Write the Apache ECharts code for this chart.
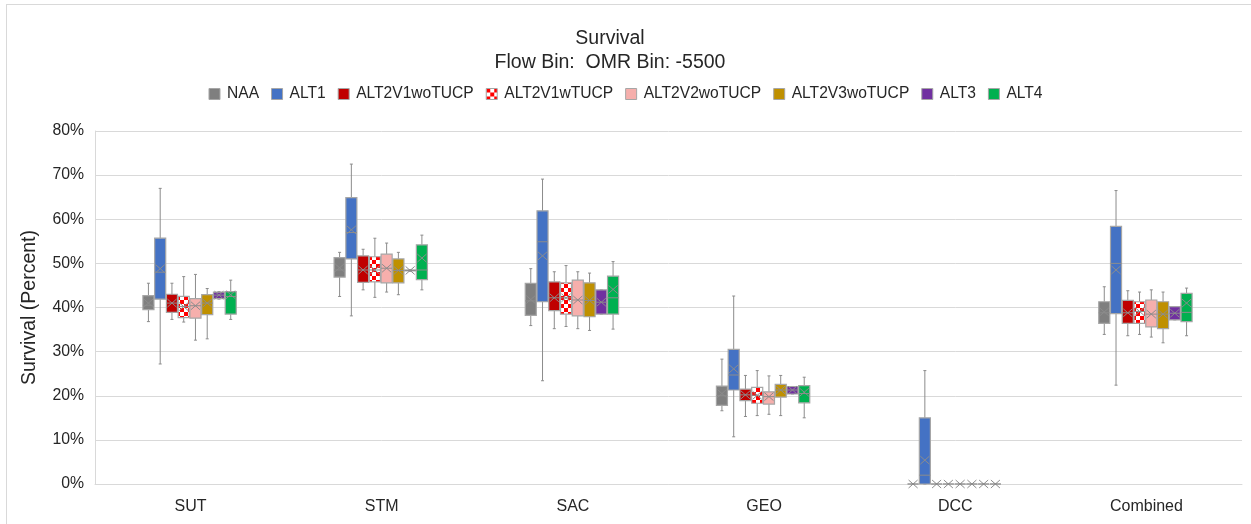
<!DOCTYPE html>
<html>
<head>
<meta charset="utf-8">
<script src="https://cdn.jsdelivr.net/npm/echarts@6/dist/echarts.min.js"></script>
<style>
html,body{margin:0;padding:0;background:#fff;}
#frame{position:absolute;left:6px;top:4px;width:1250px;height:525px;border-top:1px solid #d9d9d9;border-left:1px solid #d9d9d9;box-sizing:border-box;}
#main{position:absolute;left:0;top:0;width:1251px;height:524px;}
</style>
</head>
<body>
<div id="frame"></div>
<div id="main"></div>
<script>
// Categories and series names
const categories = ['SUT', 'STM', 'SAC', 'GEO', 'DCC', 'Combined'];
const seriesNames = ['NAA', 'ALT1', 'ALT2V1woTUCP', 'ALT2V1wTUCP', 'ALT2V2woTUCP', 'ALT2V3woTUCP', 'ALT3', 'ALT4'];
const yTicks = [0, 10, 20, 30, 40, 50, 60, 70, 80];

// Each entry per category: [whiskerMin, Q1, median, Q3, whiskerMax, mean] (percent)
const NAA = [
  [36.8, 39.5, 40.5, 42.7, 45.5, 41.0],
  [42.5, 46.9, 48.5, 51.3, 52.5, 49.0],
  [35.9, 38.2, 41.5, 45.5, 48.8, 41.8],
  [16.6, 17.8, 20.0, 22.2, 28.3, 20.5],
  [0, 0, 0, 0, 0, 0],
  [33.9, 36.4, 38.8, 41.3, 44.7, 39.0]
];
const ALT1 = [
  [27.2, 41.9, 48.0, 55.7, 67.0, 48.8],
  [38.1, 51.0, 57.0, 64.9, 72.5, 57.6],
  [23.4, 41.3, 54.9, 61.9, 69.1, 51.7],
  [10.7, 21.3, 24.7, 30.5, 42.6, 26.1],
  [0, 0, 2.0, 15.0, 25.7, 5.4],
  [22.4, 38.6, 50.0, 58.4, 66.5, 48.5]
];
const ALT2V1woTUCP = [
  [37.3, 38.9, 41.0, 43.0, 45.5, 41.0],
  [44.0, 45.7, 48.5, 51.7, 53.2, 48.5],
  [35.2, 39.3, 42.2, 45.8, 48.1, 42.2],
  [15.3, 18.9, 20.2, 21.5, 24.6, 20.2],
  [0, 0, 0, 0, 0, 0],
  [33.6, 36.4, 38.8, 41.6, 43.8, 38.8]
];
const ALT2V1wTUCP = [
  [36.7, 37.7, 40.2, 42.5, 47.0, 40.2],
  [42.3, 45.8, 48.5, 51.5, 55.7, 48.5],
  [35.7, 38.5, 42.2, 45.6, 49.5, 42.2],
  [15.5, 18.3, 20.1, 21.9, 25.7, 20.1],
  [0, 0, 0, 0, 0, 0],
  [33.9, 36.4, 39.1, 41.3, 43.5, 39.1]
];
const ALT2V2woTUCP = [
  [32.6, 37.6, 40.4, 42.0, 47.5, 40.4],
  [43.5, 45.6, 48.9, 52.1, 54.6, 48.9],
  [35.2, 38.1, 41.7, 46.2, 48.1, 41.7],
  [15.8, 18.1, 19.8, 20.9, 24.5, 19.8],
  [0, 0, 0, 0, 0, 0],
  [33.3, 35.6, 38.5, 41.7, 44.0, 38.5]
];
const ALT2V3woTUCP = [
  [32.9, 38.4, 41.0, 42.9, 44.3, 41.0],
  [42.9, 45.6, 48.4, 51.0, 52.5, 48.4],
  [34.8, 37.9, 41.6, 45.6, 47.8, 41.6],
  [15.5, 19.7, 21.3, 22.6, 24.6, 21.3],
  [0, 0, 0, 0, 0, 0],
  [32.0, 35.2, 38.5, 41.3, 43.5, 38.5]
];
const ALT3 = [
  [41.9, 42.0, 42.8, 43.5, 43.6, 42.8],
  [48.2, 48.3, 48.4, 48.5, 48.6, 48.4],
  [38.5, 38.5, 41.2, 44.0, 44.0, 41.2],
  [20.4, 20.4, 21.3, 22.1, 22.1, 21.3],
  [0, 0, 0, 0, 0, 0],
  [37.2, 37.2, 38.7, 40.2, 40.2, 38.7]
];
const ALT4 = [
  [37.3, 38.5, 42.5, 43.6, 46.2, 42.9],
  [44.0, 46.3, 48.5, 54.2, 56.4, 51.2],
  [35.1, 38.5, 42.2, 47.1, 50.4, 44.1],
  [15.0, 18.4, 20.5, 22.3, 24.2, 20.8],
  [0, 0, 0, 0, 0, 0],
  [33.6, 36.8, 38.9, 43.2, 44.4, 41.0]
];
const seriesData = [NAA, ALT1, ALT2V1woTUCP, ALT2V1wTUCP, ALT2V2woTUCP, ALT2V3woTUCP, ALT3, ALT4];

// checkerboard pattern for ALT2V1wTUCP
const pc = document.createElement('canvas');
pc.width = 8; pc.height = 8;
const pctx = pc.getContext('2d');
pctx.fillStyle = '#ffffff'; pctx.fillRect(0, 0, 8, 8);
pctx.fillStyle = '#ff0000'; pctx.fillRect(0, 0, 4, 4); pctx.fillRect(4, 4, 4, 4);
const checker = { image: pc, repeat: 'repeat' };

const colors = ['#7f7f7f', '#4472c4', '#c00000', checker, '#f6afac', '#bf9000', '#7030a0', '#00b050'];
const boxStroke = '#a6a6a6';
const lineColor = '#8c8c8c';

function makeRender(si) {
  return function (params, api) {
    const cat = api.value(0);
    const band = api.size([1, 0])[0];
    const step = band * 0.0615;
    const off = (si - 3.5) * step;
    const cx = api.coord([cat, 0])[0] + off - 1;
    const yv = k => api.coord([cat, api.value(k)])[1];
    const yMin = yv(1), yQ1 = yv(2), yMed = yv(3), yQ3 = yv(4), yMax = yv(5), yMean = yv(6);
    const half = step * 0.47;
    const ls = { stroke: lineColor, lineWidth: 1 };
    const ch = [
      { type: 'line', shape: { x1: cx, y1: yMax, x2: cx, y2: yQ3 }, style: ls },
      { type: 'line', shape: { x1: cx, y1: yQ1, x2: cx, y2: yMin }, style: ls },
      { type: 'line', shape: { x1: cx - 1.5, y1: yMax, x2: cx + 1.5, y2: yMax }, style: ls },
      { type: 'line', shape: { x1: cx - 1.5, y1: yMin, x2: cx + 1.5, y2: yMin }, style: ls },
      { type: 'rect', shape: { x: cx - half, y: yQ3, width: half * 2, height: yQ1 - yQ3 },
        style: { fill: colors[si], stroke: boxStroke, lineWidth: 1.2 } },
      { type: 'line', shape: { x1: cx - half, y1: yMed, x2: cx + half, y2: yMed }, style: ls },
      { type: 'line', shape: { x1: cx - half + 1, y1: yMean - 4, x2: cx + half - 1, y2: yMean + 4 }, style: ls },
      { type: 'line', shape: { x1: cx - half + 1, y1: yMean + 4, x2: cx + half - 1, y2: yMean - 4 }, style: ls }
    ];
    return { type: 'group', children: ch };
  };
}

const series = seriesNames.map((name, si) => ({
  name: name,
  type: 'custom',
  renderItem: makeRender(si),
  itemStyle: { color: colors[si] },
  encode: { x: 0, y: [1, 2, 3, 4, 5, 6] },
  data: seriesData[si].map((d, ci) => [ci].concat(d))
}));

const chart = echarts.init(document.getElementById('main'));
chart.setOption({
  animation: false,
  textStyle: { fontFamily: 'Liberation Sans' },
  title: {
    text: 'Survival\nFlow Bin:  OMR Bin: -5500',
    left: 605, top: 21, textAlign: 'center',
    textStyle: { fontSize: 19.5, fontWeight: 'normal', color: '#262626', lineHeight: 24.5, fontFamily: 'Liberation Sans' }
  },
  legend: {
    top: 81, left: 'center',
    icon: 'rect', itemWidth: 11, itemHeight: 11, itemGap: 12,
    textStyle: { fontSize: 15.6, color: '#262626', padding: [0, 0, 0, 2] },
    data: seriesNames.map((n, i) => ({ name: n, itemStyle: { color: colors[i], borderColor: '#a6a6a6', borderWidth: 1 } }))
  },
  grid: { left: 95, right: 9, top: 131, bottom: 40 },
  xAxis: {
    type: 'category', data: categories,
    axisLine: { show: true, lineStyle: { color: '#d9d9d9' } },
    axisTick: { show: false },
    axisLabel: { fontSize: 16, color: '#262626', margin: 15 },
    splitLine: { show: false }
  },
  yAxis: {
    type: 'value', min: yTicks[0], max: yTicks[yTicks.length - 1], interval: 10,
    name: 'Survival (Percent)', nameLocation: 'middle', nameGap: 55, nameRotate: 90,
    nameTextStyle: { fontSize: 19.5, color: '#262626' },
    axisLine: { show: true, lineStyle: { color: '#d9d9d9' } },
    axisTick: { show: false },
    axisLabel: { fontSize: 15.8, color: '#262626', margin: 11, formatter: '{value}%' },
    splitLine: { show: true, lineStyle: { color: '#d9d9d9' } }
  },
  series: series
});
</script>
</body>
</html>
